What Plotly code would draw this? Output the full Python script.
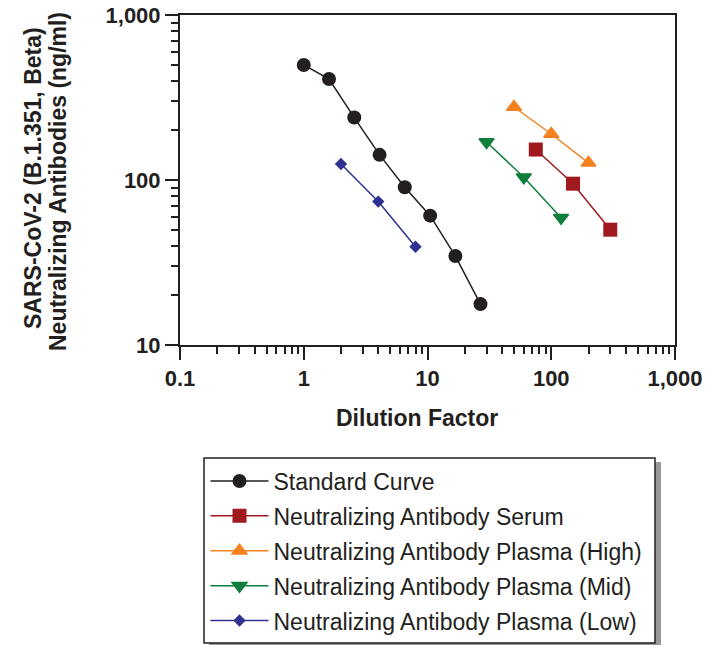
import plotly.graph_objects as go

# Data
std_x = [1, 1.6, 2.56, 4.1, 6.55, 10.5, 16.8, 26.8]
std_y = [498, 409, 239, 142, 90.4, 60.8, 34.6, 17.7]
serum_x = [75, 150, 300]
serum_y = [153, 95, 50]
high_x = [50, 100, 200]
high_y = [277, 190, 127]
mid_x = [30, 60, 120]
mid_y = [170, 104, 59]
low_x = [2, 4, 8]
low_y = [125, 74, 39.4]

x_tickvals = [0.1, 1, 10, 100, 1000]
x_ticktext = ["0.1", "1", "10", "100", "1,000"]
y_tickvals = [10, 100, 1000]
y_ticktext = ["10", "100", "1,000"]

names = ["Standard Curve", "Neutralizing Antibody Serum", "Neutralizing Antibody Plasma (High)",
         "Neutralizing Antibody Plasma (Mid)", "Neutralizing Antibody Plasma (Low)"]
colors = ["#231F20", "#A0191E", "#F5821F", "#0F7F3B", "#2E3192"]
symbols = ["circle", "square", "triangle-up", "triangle-down", "diamond"]
sizes = [14, 14, 13, 13, 9.5]
mline = [0, 0, 1.5, 1.5, 0]
series = [(std_x, std_y), (serum_x, serum_y), (high_x, high_y), (mid_x, mid_y), (low_x, low_y)]

FONT = "Liberation Sans, Arial, sans-serif"
W, H = 713, 645
# plot area in page pixels: x 180..675, y 15..345
L, T = 180, 15
R = W - 675
B = H - 345
pw, ph = W - L - R, H - T - B

def px(x):
    return (x - L) / pw

def py(y):
    return (H - B - y) / ph

fig = go.Figure()
for i, ((xs, ys), n, c, s, sz, ml) in enumerate(zip(series, names, colors, symbols, sizes, mline)):
    fig.add_trace(go.Scatter(
        x=xs, y=ys, name=n, mode="lines+markers",
        line=dict(color=c, width=1.5),
        marker=dict(symbol=s, size=sz, color=c, line=dict(width=ml, color=c)),
        legendgroup=f"g{i}",
    ))

axis_common = dict(
    type="log", showline=True, linecolor="#231F20", linewidth=2, mirror=True,
    ticks="outside", ticklen=13, tickwidth=2, tickcolor="#231F20",
    showgrid=False, zeroline=False, automargin=False, ticklabeloverflow="allow",
    tickfont=dict(family=FONT, size=22, color="#231F20", weight="bold"),
    minor=dict(ticks="outside", ticklen=7, tickwidth=1.5, tickcolor="#231F20", showgrid=False, dtick="D1"),
)

fig.update_xaxes(range=[-1, 3], tickvals=x_tickvals, ticktext=x_ticktext, **axis_common)
fig.update_yaxes(range=[1, 3], tickvals=y_tickvals, ticktext=y_ticktext, **axis_common)

title_font = dict(family=FONT, size=23, color="#231F20", weight="bold")
fig.add_annotation(
    text="SARS-CoV-2 (B.1.351, Beta)",
    xref="paper", yref="paper", x=px(33), y=py(178), textangle=-90,
    showarrow=False, xanchor="center", yanchor="middle", font=title_font,
)
fig.add_annotation(
    text="Neutralizing Antibodies (ng/ml)",
    xref="paper", yref="paper", x=px(58), y=py(182), textangle=-90,
    showarrow=False, xanchor="center", yanchor="middle", font=title_font,
)
fig.add_annotation(
    text="Dilution Factor", xref="paper", yref="paper", x=px(417), y=py(418),
    showarrow=False, xanchor="center", yanchor="middle", font=title_font,
)

# legend frame with shadow
fig.add_shape(type="rect", xref="paper", yref="paper",
              x0=px(209), x1=px(661), y0=py(462), y1=py(660),
              fillcolor="#999999", line=dict(width=0), layer="above")
fig.add_shape(type="rect", xref="paper", yref="paper",
              x0=px(204), x1=px(655), y0=py(458), y1=py(643),
              fillcolor="white", line=dict(width=1.5, color="#231F20"), layer="above")

fig.update_layout(
    width=W, height=H, margin=dict(l=L, r=R, t=T, b=B, autoexpand=False),
    paper_bgcolor="white", plot_bgcolor="white",
    font=dict(family=FONT, color="#231F20"),
    legend=dict(
        xref="container", yref="container",
        x=205.5 / W, y=1 - 459.5 / H, xanchor="left", yanchor="top",
        bgcolor="rgba(0,0,0,0)", borderwidth=0,
        font=dict(family=FONT, size=23, color="#231F20"),
        itemwidth=58, tracegroupgap=2,
    ),
)

fig.write_html("out.html", config={"displayModeBar": False},
               post_script="document.body.style.margin='0';")
